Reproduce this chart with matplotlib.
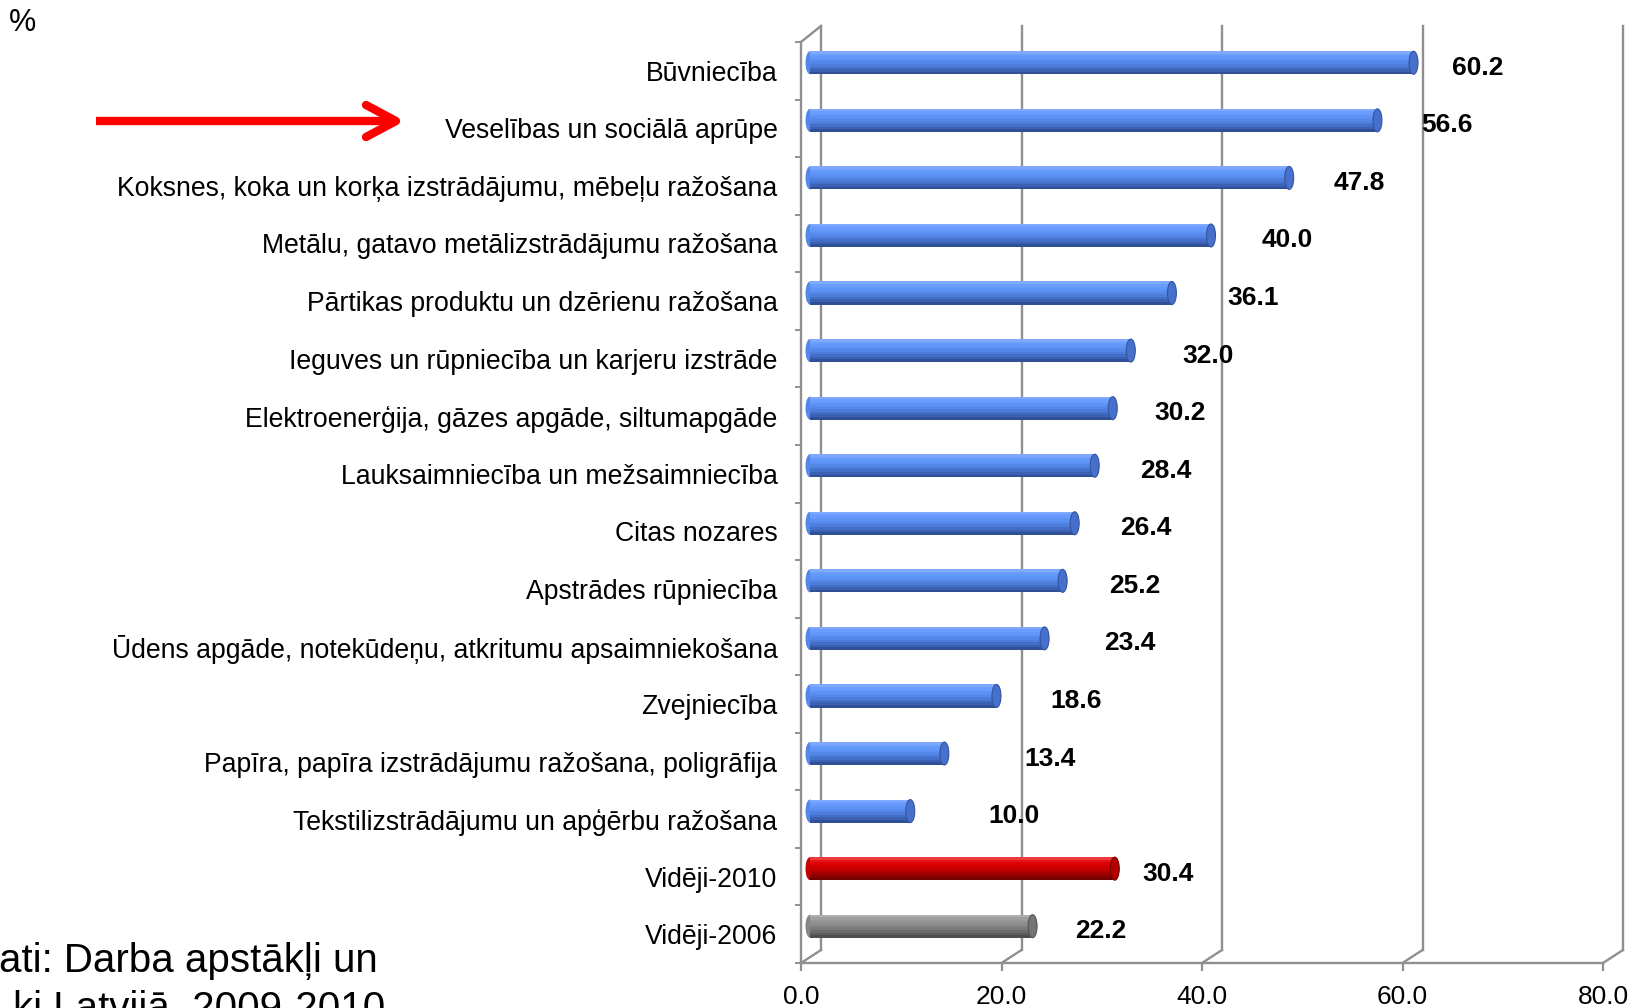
import numpy as np
import matplotlib
matplotlib.use("Agg")
import matplotlib.pyplot as plt
from matplotlib.transforms import ScaledTranslation
from matplotlib.patches import Ellipse
from matplotlib.lines import Line2D

plt.rcParams['font.family'] = ['Liberation Sans', 'DejaVu Sans']

# ---------------- data ----------------
categories = [
    "Būvniecība",
    "Veselības un sociālā aprūpe",
    "Koksnes, koka un korķa izstrādājumu, mēbeļu ražošana",
    "Metālu, gatavo metālizstrādājumu ražošana",
    "Pārtikas produktu un dzērienu ražošana",
    "Ieguves un rūpniecība un karjeru izstrāde",
    "Elektroenerģija, gāzes apgāde, siltumapgāde",
    "Lauksaimniecība un mežsaimniecība",
    "Citas nozares",
    "Apstrādes rūpniecība",
    "Ūdens apgāde, notekūdeņu, atkritumu apsaimniekošana",
    "Zvejniecība",
    "Papīra, papīra izstrādājumu ražošana, poligrāfija",
    "Tekstilizstrādājumu un apģērbu ražošana",
    "Vidēji-2010",
    "Vidēji-2006",
]
values = [60.2, 56.6, 47.8, 40.0, 36.1, 32.0, 30.2, 28.4, 26.4, 25.2, 23.4,
          18.6, 13.4, 10.0, 30.4, 22.2]
bar_kind = ["blue"] * 14 + ["red", "gray"]
x_ticks = [0, 20, 40, 60, 80]
x_tick_labels = ["0.0", "20.0", "40.0", "60.0", "80.0"]

# ---------------- styles ----------------
shades = {
    "blue": ['#7fa9ff', '#6a9dff', '#6398fb', '#5c90f3', '#5587e8', '#4d7cda',
             '#446fc8', '#3b61b2', '#304f96'],
    "red": ['#ee3a3a', '#e41414', '#dc0404', '#d40000', '#c80000', '#b80000',
            '#a20000', '#8a0000', '#700000'],
    "gray": ['#b0b0b0', '#9e9e9e', '#969696', '#8e8e8e', '#868686', '#7a7a7a',
             '#6c6c6c', '#5e5e5e', '#4e4e4e'],
}
cap_col = {"blue": '#4670cc', "red": '#b00000', "gray": '#747474'}
edge_col = {"blue": '#34559f', "red": '#7a0000', "gray": '#555555'}
label_dx_px = [64, 70, 70, 76, 81, 77, 67, 71, 71, 72, 85, 80, 106, 104, 53, 68]
grid_col = '#8f8f8f'
W, H = 1632, 1008

fig = plt.figure(figsize=(W / 100, H / 100), dpi=100)
ax_l, ax_r, ax_t, ax_b = 801, 1603, 42, 963
ax = fig.add_axes([ax_l / W, 1 - ax_b / H, (ax_r - ax_l) / W, (ax_b - ax_t) / H])
n = len(categories)
ax.set_xlim(0, 80)
ax.set_ylim(n - 0.5, -0.5)

px_x = (ax_r - ax_l) / 80.0
px_y = (ax_b - ax_t) / n


def off(dx, dy):
    return ScaledTranslation(dx / 100.0, dy / 100.0, fig.dpi_scale_trans)


mid = ax.transData + off(9, 8)
back = ax.transData + off(20, 13)

# back wall gridlines
for x in x_ticks:
    ax.add_line(Line2D([x, x], [n - 0.5, -0.5 - 3 / px_y], transform=back,
                       color=grid_col, lw=1.7, clip_on=False, zorder=1))
# floor diagonals
bdx, bdy = 20 / px_x, 13 / px_y
for x in x_ticks:
    ax.add_line(Line2D([x, x + bdx], [n - 0.5, n - 0.5 - bdy], color=grid_col,
                       lw=1.7, clip_on=False, zorder=1))
# top-left diagonal of side wall
ax.add_line(Line2D([0, bdx], [-0.5, -0.5 - bdy - 3 / px_y], color=grid_col,
                   lw=1.7, clip_on=False, zorder=1))

# cylinders
h = 23 / px_y
cap_w = 9 / px_x
ns = len(shades["blue"])
for i, (v, kind) in enumerate(zip(values, bar_kind)):
    cols = shades[kind]
    ax.add_patch(Ellipse((0, i), cap_w, h, transform=mid, facecolor=cols[4],
                         edgecolor='none', zorder=2, clip_on=False))
    ax.barh(i, v, height=h, left=0, color=cols[4], transform=mid, zorder=3,
            clip_on=False)
    for j in range(ns):
        yc = i - h / 2 + (j + 0.5) * h / ns
        ax.barh(yc, v, height=h / ns * 1.05, left=0, color=cols[j],
                transform=mid, zorder=4, linewidth=0, clip_on=False)
    ax.add_patch(Ellipse((v, i), cap_w, h, transform=mid, facecolor=cap_col[kind],
                         edgecolor=edge_col[kind], lw=0.8, zorder=5, clip_on=False))
    ax.text(v, i, f"{v:.1f}", transform=mid + off(label_dx_px[i], -5),
            ha='center', va='center', fontsize=19, fontweight='bold',
            color='black', zorder=6)

# axes styling
for s in ['top', 'right']:
    ax.spines[s].set_visible(False)
for s in ['left', 'bottom']:
    ax.spines[s].set_color(grid_col)
    ax.spines[s].set_linewidth(1.7)
ax.set_xticks(x_ticks, labels=x_tick_labels)
ax.set_yticks(range(n), labels=categories)
ax.set_yticks(np.arange(-0.5, n, 1.0), minor=True)
ax.tick_params(axis='x', length=5.8, width=1.6, color=grid_col, pad=10,
               labelsize=19)
ax.tick_params(axis='y', which='major', length=0, pad=17, labelsize=19.2)
ax.tick_params(axis='y', which='minor', length=4.5, width=1.4, color=grid_col)
ax.patch.set_visible(False)

# annotations
fig.text(22 / W, 1 - 23 / H, "%", ha='center', va='center', fontsize=22)
arrow_kw = dict(color='#ff0000', lw=6, solid_capstyle='round',
                solid_joinstyle='round', transform=fig.transFigure)
fig.add_artist(Line2D([96 / W, 392 / W], [1 - 121 / H, 1 - 121 / H],
                      solid_capstyle='butt', color='#ff0000', lw=6,
                      transform=fig.transFigure))
fig.add_artist(Line2D([366 / W, 396 / W, 366 / W],
                      [1 - 105 / H, 1 - 121 / H, 1 - 137 / H], **arrow_kw))

fig.text(378 / W, 1 - 972 / H, "ati: Darba apstākļi un", ha='right',
         va='baseline', fontsize=29)
fig.text(385 / W, 1 - 1020 / H, "ki Latvijā, 2009-2010", ha='right',
         va='baseline', fontsize=29)

fig.savefig("out.png", dpi=100)
